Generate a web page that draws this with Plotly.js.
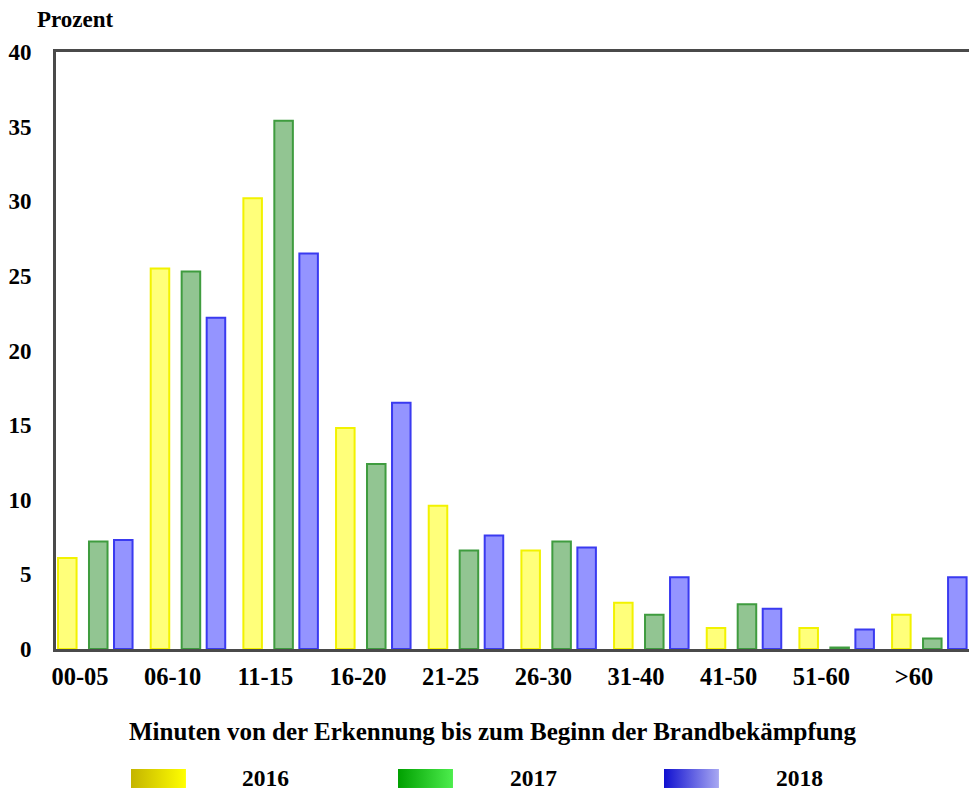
<!DOCTYPE html>
<html>
<head>
<meta charset="utf-8">
<script src="https://cdn.plot.ly/plotly-3.0.1.min.js"></script>
<style>
  html, body { margin: 0; padding: 0; background: #ffffff; }
  #chart { width: 969px; height: 792px; }
</style>
</head>
<body>
<div id="chart"></div>
<script>
// ---- Data ----
const categories = ['00-05', '06-10', '11-15', '16-20', '21-25', '26-30', '31-40', '41-50', '51-60', '>60'];
const values2016 = [6.1, 25.5, 30.2, 14.8, 9.6, 6.6, 3.1, 1.4, 1.4, 2.3];
const values2017 = [7.2, 25.3, 35.4, 12.4, 6.6, 7.2, 2.3, 3.0, 0.1, 0.7];
const values2018 = [7.3, 22.2, 26.5, 16.5, 7.6, 6.8, 4.8, 2.7, 1.3, 4.8];
const seriesNames = ['2016', '2017', '2018'];
const yTickValues = [0, 5, 10, 15, 20, 25, 30, 35, 40];
const yAxisLabel = 'Prozent';
const xAxisLabel = 'Minuten von der Erkennung bis zum Beginn der Brandbekämpfung';

// ---- Styles ----
const FONT = '"Liberation Serif", "Times New Roman", serif';
const fills   = ['#ffff7a', '#92c592', '#9494ff'];
const borders = ['#f2f200', '#3f9c3f', '#3a3af0'];
const offsets = [-0.237, 0.097, 0.367];
const gradients = [['#c4b400', '#ffff00'], ['#00a000', '#4ded4d'], ['#1010d0', '#a8a8f2']];

function gradUri(c1, c2) {
  const svg = '<svg xmlns="http://www.w3.org/2000/svg" width="55" height="19" viewBox="0 0 55 19" preserveAspectRatio="none">' +
    '<defs><linearGradient id="g" x1="0" y1="0" x2="1" y2="0"><stop offset="0" stop-color="' + c1 + '"/>' +
    '<stop offset="1" stop-color="' + c2 + '"/></linearGradient></defs>' +
    '<rect x="0" y="0" width="55" height="19" fill="url(#g)"/></svg>';
  return 'data:image/svg+xml;charset=utf-8,' + encodeURIComponent(svg);
}

const seriesValues = [values2016, values2017, values2018];
const traces = seriesValues.map((vals, i) => ({
  type: 'bar',
  name: seriesNames[i],
  x: categories,
  y: vals,
  width: 0.2,
  offset: offsets[i],
  marker: { color: fills[i], line: { color: borders[i], width: 2 } },
  showlegend: false,
  hoverinfo: 'x+y+name'
}));

// legend geometry in paper coordinates (plot: x 56..969, y 52..649)
const legendX = [0.0821, 0.3746, 0.6659];
const legendTextX = [0.2295, 0.5225, 0.8143];

const images = gradients.map((g, i) => ({
  source: gradUri(g[0], g[1]),
  xref: 'paper', yref: 'paper',
  x: legendX[i], y: -0.2010,
  sizex: 0.0602, sizey: 0.0318,
  sizing: 'stretch',
  xanchor: 'left', yanchor: 'top',
  layer: 'above'
}));

const annotations = seriesNames.map((n, i) => ({
  text: n,
  xref: 'paper', yref: 'paper',
  x: legendTextX[i], y: -0.2161,
  xanchor: 'center', yanchor: 'middle',
  showarrow: false,
  font: { family: FONT, size: 23.5, color: '#000', weight: 'bold' }
}));
annotations.push({
  text: xAxisLabel,
  xref: 'paper', yref: 'paper',
  x: 0.4786, y: -0.1374,
  xanchor: 'center', yanchor: 'middle',
  showarrow: false,
  font: { family: FONT, size: 25, color: '#000', weight: 'bold' }
});

const layout = {
  width: 969, height: 792,
  margin: { l: 56, r: 0, t: 52, b: 143, pad: 0 },
  paper_bgcolor: '#ffffff',
  plot_bgcolor: '#ffffff',
  font: { family: FONT, size: 22, color: '#000' },
  title: {
    text: yAxisLabel,
    xref: 'container', yref: 'container',
    x: 37 / 969, xanchor: 'left',
    y: 1 - 19 / 792, yanchor: 'middle',
    font: { family: FONT, size: 23, color: '#000', weight: 'bold' }
  },
  xaxis: {
    type: 'category',
    range: [-0.259, 9.593],
    showline: true, linecolor: '#4a4a4a', linewidth: 3,
    mirror: true,
    showgrid: false, zeroline: false,
    ticks: '',
    ticklabelstandoff: 4,
    tickfont: { family: FONT, size: 24.5, color: '#000', weight: 'bold' },
    fixedrange: true
  },
  yaxis: {
    range: [0, 40],
    tickvals: yTickValues,
    ticktext: yTickValues.map(String),
    showline: true, linecolor: '#4a4a4a', linewidth: 3,
    mirror: false,
    showgrid: false, zeroline: false,
    ticks: '',
    ticklabelstandoff: 17,
    tickfont: { family: FONT, size: 23, color: '#000', weight: 'bold' },
    fixedrange: true
  },
  images: images,
  annotations: annotations,
  showlegend: false
};

Plotly.newPlot('chart', traces, layout, { displayModeBar: false, staticPlot: true });
</script>
</body>
</html>
